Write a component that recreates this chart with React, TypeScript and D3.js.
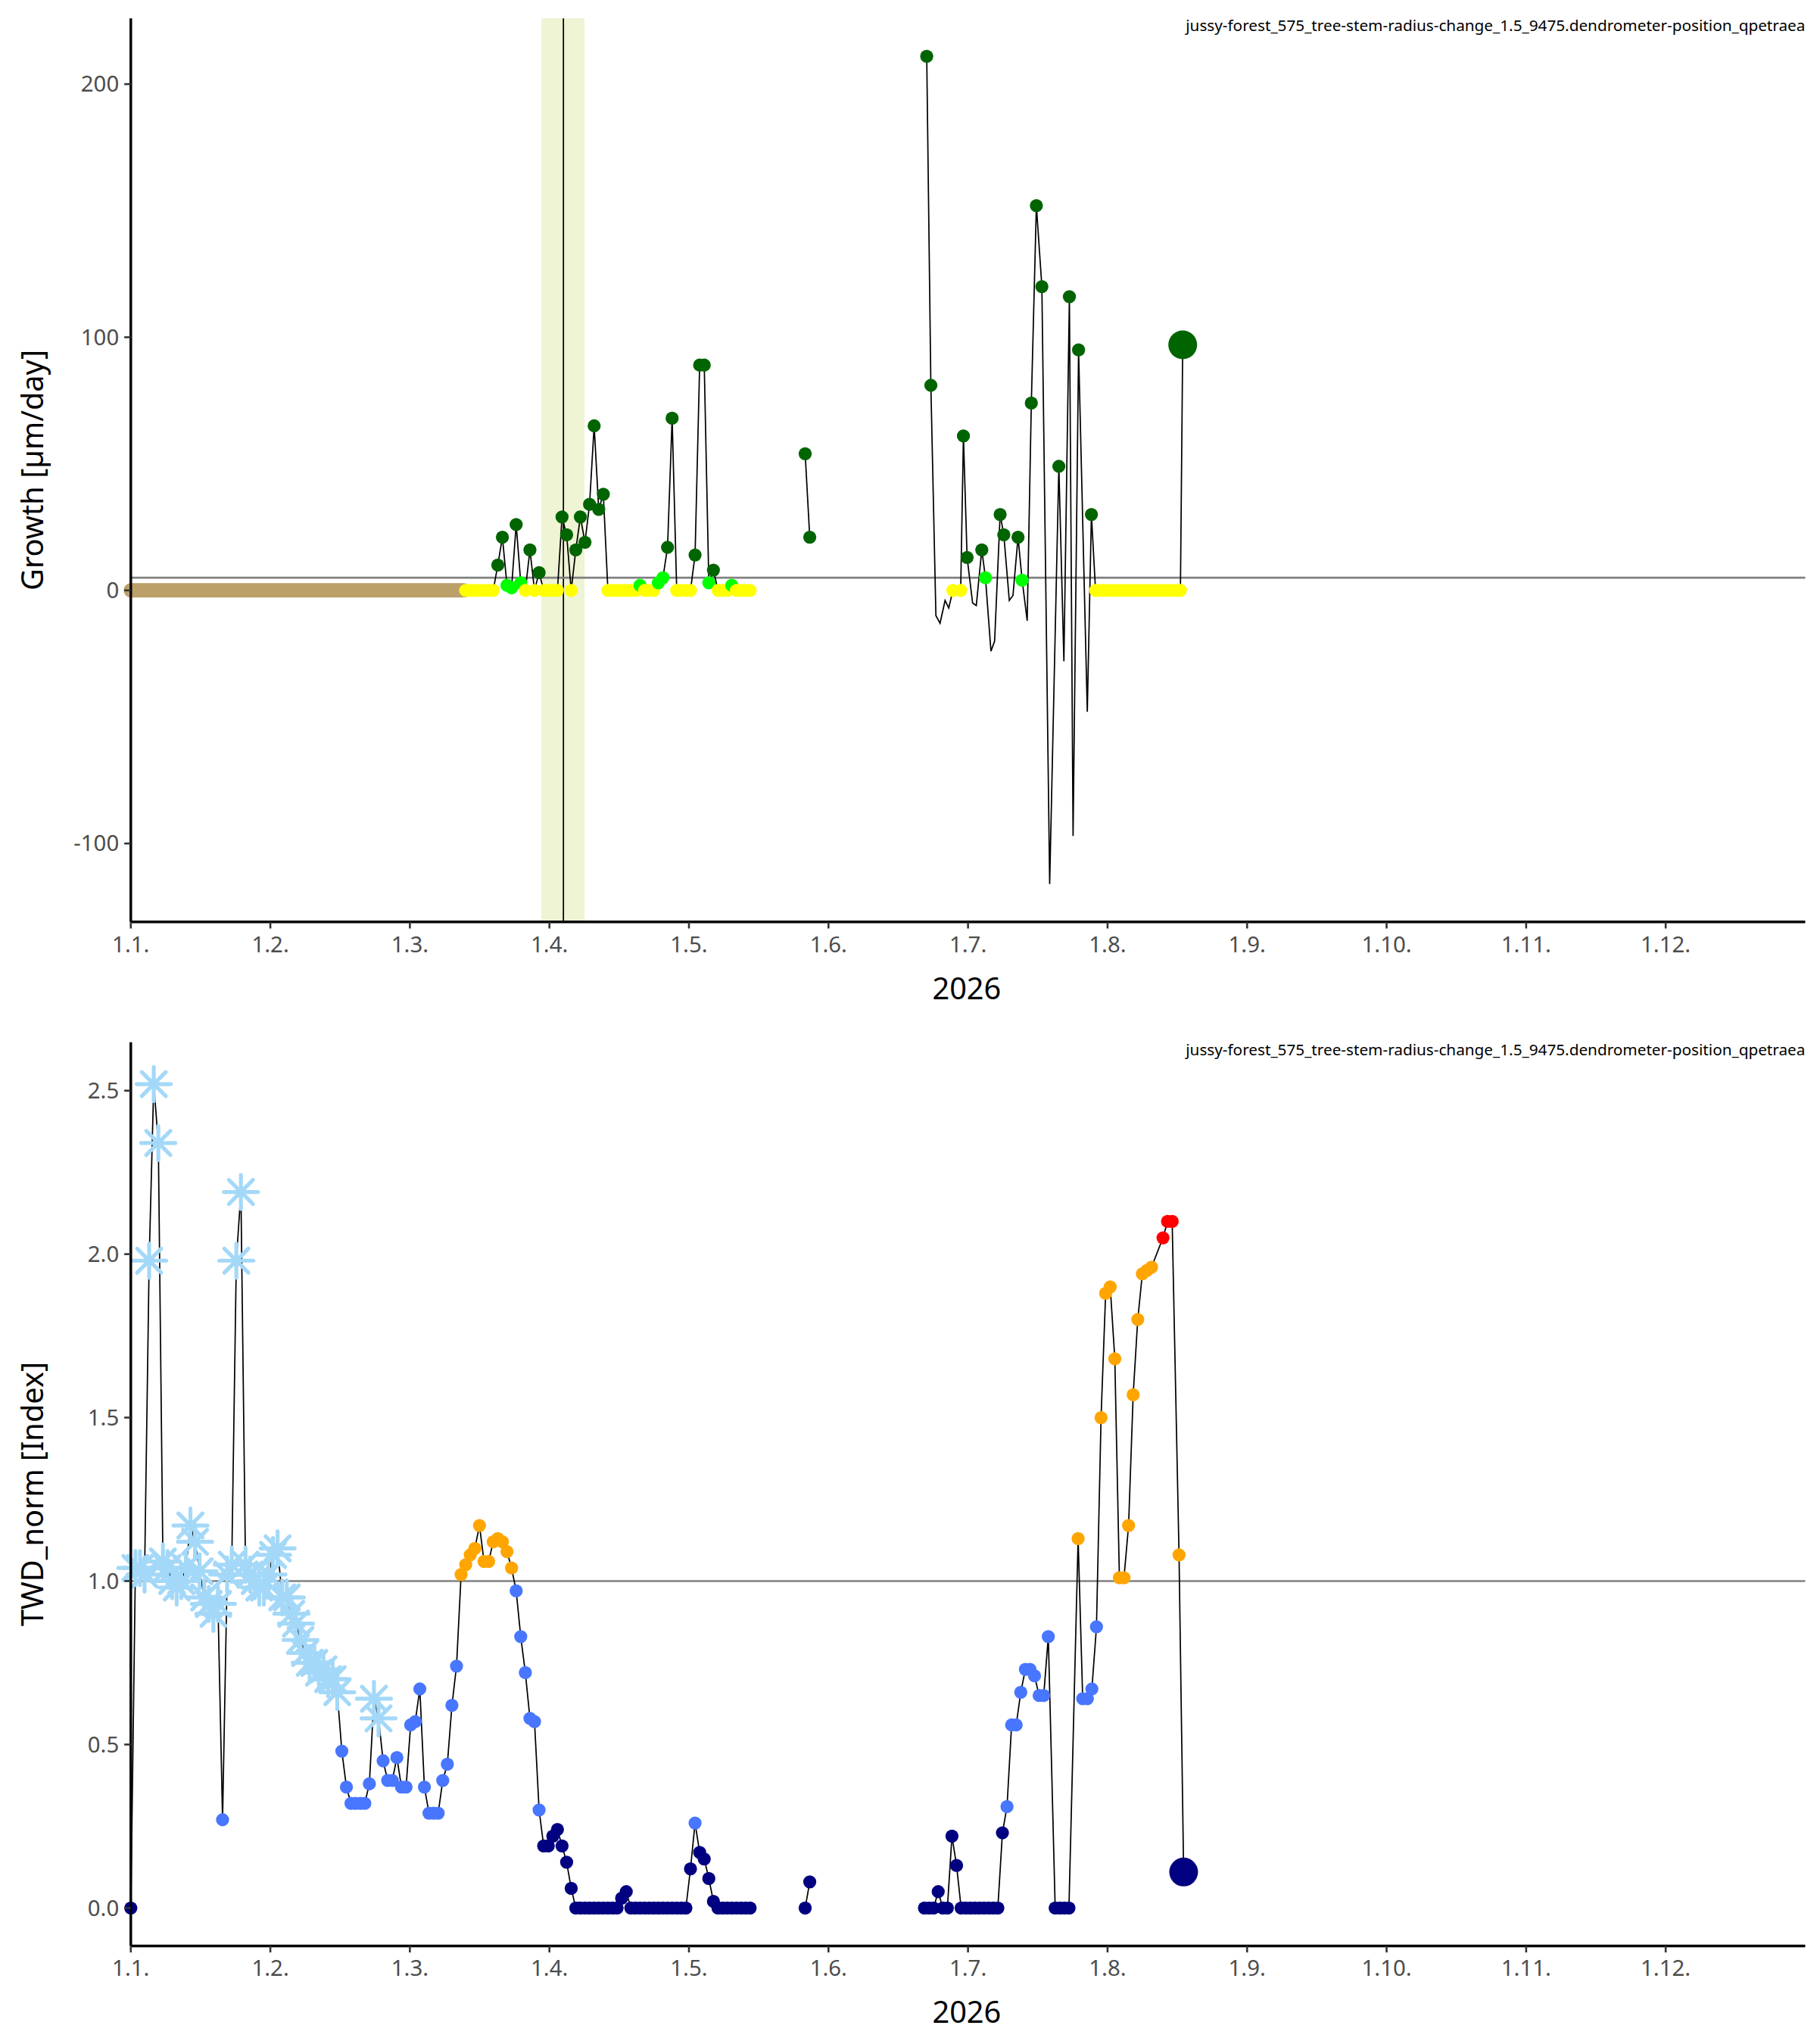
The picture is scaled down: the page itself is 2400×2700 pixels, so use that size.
import React from "react";
import * as d3 from "d3";

const TITLE = "jussy-forest_575_tree-stem-radius-change_1.5_9475.dendrometer-position_qpetraea";
const MONTH_LABELS = ["1.1.","1.2.","1.3.","1.4.","1.5.","1.6.","1.7.","1.8.","1.9.","1.10.","1.11.","1.12."];
const GROWTH_TICKS = [-100, 0, 100, 200];
const TWD_TICKS = [0, 0.5, 1, 1.5, 2, 2.5];

// [day, value, class]  g=dark green, l=lime, y=yellow, n=line only, G=big green
const growthA: [number, number, string][] = [
  [73,0,"y"],[74,0,"y"],[75,0,"y"],[76,0,"y"],[77,0,"y"],[78,0,"y"],[79,0,"y"],
  [80,10,"g"],[81,21,"g"],[82,2,"l"],[83,1,"l"],[84,26,"g"],[85,3,"l"],[86,0,"y"],[87,16,"g"],
  [88,0,"y"],[89,7,"g"],[90,0,"y"],[91,0,"y"],[92,0,"y"],[93,0,"y"],[94,29,"g"],[95,22,"g"],
  [96,0,"y"],[97,16,"g"],[98,29,"g"],[99,19,"g"],[100,34,"g"],[101,65,"g"],[102,32,"g"],[103,38,"g"],
  [104,0,"y"],[105,0,"y"],[106,0,"y"],[107,0,"y"],[108,0,"y"],[109,0,"y"],[110,0,"y"],
  [111,2,"l"],[112,0,"y"],[113,0,"y"],[114,0,"y"],[115,3,"l"],[116,5,"l"],[117,17,"g"],[118,68,"g"],
  [119,0,"y"],[120,0,"y"],[121,0,"y"],[122,0,"y"],[123,14,"g"],[124,89,"g"],[125,89,"g"],
  [126,3,"l"],[127,8,"g"],[128,0,"y"],[129,0,"y"],[130,0,"y"],[131,2,"l"],[132,0,"y"],
  [133,0,"y"],[134,0,"y"],[135,0,"y"],
];
const growthB: [number, number, string][] = [[147,54,"g"],[148,21,"g"]];
const growthC: [number, number, string][] = [
  [173.5,211,"g"],[174.4,81,"g"],[175.5,-10,"n"],[176.4,-13,"n"],[177.5,-4,"n"],[178.3,-7,"n"],
  [179.2,0,"y"],[180.9,0,"y"],[181.5,61,"g"],[182.3,13,"g"],[183.5,-5,"n"],[184.3,-6,"n"],
  [185.5,16,"g"],[186.3,5,"l"],[187.5,-24,"n"],[188.3,-20,"n"],[189.5,30,"g"],[190.3,22,"g"],
  [191.5,-4,"n"],[192.3,-2,"n"],[193.4,21,"g"],[194.3,4,"l"],[195.4,-12,"n"],[196.3,74,"g"],
  [197.4,152,"g"],[198.6,120,"g"],[200.3,-116,"n"],[202.3,49,"g"],[203.4,-28,"n"],[204.6,116,"g"],
  [205.4,-97,"n"],[206.6,95,"g"],[208.5,-48,"n"],[209.4,30,"g"],[210.3,0,"y"],
  [211,0,"y"],[212,0,"y"],[213,0,"y"],[214,0,"y"],[215,0,"y"],[216,0,"y"],[217,0,"y"],[218,0,"y"],
  [219,0,"y"],[220,0,"y"],[221,0,"y"],[222,0,"y"],[223,0,"y"],[224,0,"y"],[225,0,"y"],[226,0,"y"],
  [227,0,"y"],[228,0,"y"],[228.8,0,"y"],[229.3,97,"G"],
];
const tanBand: [number, number] = [0, 72.6];
const growthBand: [number, number] = [89.5, 98.9];
const growthVLine = 94.3;
const growthRef = 5;

// [day, value, class] a=asterisk light blue, b=blue, n=navy, o=orange, r=red, N=big navy
const twdA: [number, number, string][] = [
  [0,0,"n"],[1,1.04,"a"],[2,1.04,"a"],[3,1.02,"a"],[4,1.98,"a"],[5,2.52,"a"],[6,2.34,"a"],[7,1.06,"a"],
  [8,1.04,"a"],[9,1.0,"a"],[10,0.98,"a"],[11,1.0,"a"],[12,1.04,"a"],[13,1.17,"a"],[14,1.12,"a"],
  [15,1.03,"a"],[16,0.95,"a"],[17,0.93,"a"],[18,0.9,"a"],[19,0.93,"a"],[20,0.27,"b"],[21,1.02,"a"],
  [22,1.05,"a"],[23,1.98,"a"],[24,2.19,"a"],[25,1.05,"a"],[26,1.02,"a"],[27,1.0,"a"],[28,0.98,"a"],
  [29,0.98,"a"],[30,1.02,"a"],[31,1.08,"a"],[32,1.1,"a"],[33,0.95,"a"],[34,0.95,"a"],[35,0.9,"a"],
  [36,0.87,"a"],[37,0.82,"a"],[38,0.78,"a"],[39,0.75,"a"],[40,0.75,"a"],[41,0.72,"a"],[42,0.73,"a"],
  [43,0.7,"a"],[44,0.7,"a"],[45,0.66,"a"],[46,0.48,"b"],[47,0.37,"b"],[48,0.32,"b"],[49,0.32,"b"],
  [50,0.32,"b"],[51,0.32,"b"],[52,0.38,"b"],[53,0.64,"a"],[54,0.58,"a"],[55,0.45,"b"],[56,0.39,"b"],
  [57,0.39,"b"],[58,0.46,"b"],[59,0.37,"b"],[60,0.37,"b"],[61,0.56,"b"],[62,0.57,"b"],[63,0.67,"b"],
  [64,0.37,"b"],[65,0.29,"b"],[66,0.29,"b"],[67,0.29,"b"],[68,0.39,"b"],[69,0.44,"b"],[70,0.62,"b"],
  [71,0.74,"b"],[72,1.02,"o"],[73,1.05,"o"],[74,1.08,"o"],[75,1.1,"o"],[76,1.17,"o"],[77,1.06,"o"],
  [78,1.06,"o"],[79,1.12,"o"],[80,1.13,"o"],[81,1.12,"o"],[82,1.09,"o"],[83,1.04,"o"],[84,0.97,"b"],
  [85,0.83,"b"],[86,0.72,"b"],[87,0.58,"b"],[88,0.57,"b"],[89,0.3,"b"],[90,0.19,"n"],[91,0.19,"n"],
  [92,0.22,"n"],[93,0.24,"n"],[94,0.19,"n"],[95,0.14,"n"],[96,0.06,"n"],[97,0,"n"],[98,0,"n"],
  [99,0,"n"],[100,0,"n"],[101,0,"n"],[102,0,"n"],[103,0,"n"],[104,0,"n"],[105,0,"n"],[106,0,"n"],
  [107,0.03,"n"],[108,0.05,"n"],[109,0,"n"],[110,0,"n"],[111,0,"n"],[112,0,"n"],[113,0,"n"],
  [114,0,"n"],[115,0,"n"],[116,0,"n"],[117,0,"n"],[118,0,"n"],[119,0,"n"],[120,0,"n"],[121,0,"n"],
  [122,0.12,"n"],[123,0.26,"b"],[124,0.17,"n"],[125,0.15,"n"],[126,0.09,"n"],[127,0.02,"n"],
  [128,0,"n"],[129,0,"n"],[130,0,"n"],[131,0,"n"],[132,0,"n"],[133,0,"n"],[134,0,"n"],[135,0,"n"],
];
const twdB: [number, number, string][] = [[147,0,"n"],[148,0.08,"n"]];
const twdC: [number, number, string][] = [
  [173,0,"n"],[174,0,"n"],[175,0,"n"],[176,0.05,"n"],[177,0,"n"],[178,0,"n"],[179,0.22,"n"],
  [180,0.13,"n"],[181,0,"n"],[182,0,"n"],[183,0,"n"],[184,0,"n"],[185,0,"n"],[186,0,"n"],
  [187,0,"n"],[188,0,"n"],[189,0,"n"],[190,0.23,"n"],[191,0.31,"b"],[192,0.56,"b"],[193,0.56,"b"],
  [194,0.66,"b"],[195,0.73,"b"],[196,0.73,"b"],[197,0.71,"b"],[198,0.65,"b"],[199,0.65,"b"],
  [200,0.83,"b"],[201.5,0,"n"],[202.5,0,"n"],[203.5,0,"n"],[204.5,0,"n"],[206.5,1.13,"o"],
  [207.5,0.64,"b"],[208.5,0.64,"b"],[209.5,0.67,"b"],[210.5,0.86,"b"],[211.5,1.5,"o"],[212.5,1.88,"o"],
  [213.5,1.9,"o"],[214.5,1.68,"o"],[215.5,1.01,"o"],[216.5,1.01,"o"],[217.5,1.17,"o"],[218.5,1.57,"o"],
  [219.5,1.8,"o"],[220.5,1.94,"o"],[221.5,1.95,"o"],[222.5,1.96,"o"],[225,2.05,"r"],[226,2.1,"r"],
  [227,2.1,"r"],[228.5,1.08,"o"],[229.5,0.11,"N"],
];

const COLORS: Record<string, string> = {
  g: "#006400", l: "#00ff00", y: "#ffff00", G: "#006400",
  a: "#a4d8f8", b: "#4876ff", n: "#000080", N: "#000080", o: "#ffa500", r: "#ff0000",
};

const X0 = 100, X1 = 1380;
const x = d3.scaleLinear().domain([0, 365]).range([X0, X1]);
const monthTicks = MONTH_LABELS.map((_, i) => (i * 365) / 12);

function Star({ cx, cy }: { cx: number; cy: number }) {
  const r = 13;
  const lines = [0, 45, 90, 135].map((a) => {
    const t = (a * Math.PI) / 180;
    return <line key={a} x1={cx - r * Math.cos(t)} y1={cy - r * Math.sin(t)} x2={cx + r * Math.cos(t)} y2={cy + r * Math.sin(t)} />;
  });
  return <g stroke={COLORS.a} strokeWidth={3} strokeLinecap="round">{lines}</g>;
}

function Panel({ top, bottom, domain, ticks, fmt, label, segs, refVal, growth }: any) {
  const y = d3.scaleLinear().domain(domain).range([bottom, top]);
  const line = d3.line<[number, number, string]>().x((d) => x(d[0])).y((d) => y(d[1]));
  return (
    <g>
      {growth && (
        <>
          <rect x={x(growthBand[0])} y={top} width={x(growthBand[1]) - x(growthBand[0])} height={bottom - top} fill="#eef4d4" />
          <line x1={x(growthVLine)} x2={x(growthVLine)} y1={top} y2={bottom} stroke="#000" strokeWidth={1} />
        </>
      )}
      <line x1={X0} x2={X1} y1={y(refVal)} y2={y(refVal)} stroke="#808080" strokeWidth={1.5} />
      {growth && (
        <line x1={x(tanBand[0])} x2={x(tanBand[1])} y1={y(0)} y2={y(0)} stroke="#bca06a" strokeWidth={11} strokeLinecap="round" />
      )}
      {segs.map((s: any, i: number) => (
        <path key={i} d={line(s) || ""} fill="none" stroke="#000" strokeWidth={1} />
      ))}
      {segs.flat().map((d: [number, number, string], i: number) => {
        if (d[2] === "n" && growth) return null;
        if (d[2] === "a") return <Star key={i} cx={x(d[0])} cy={y(d[1])} />;
        const big = d[2] === "G" || d[2] === "N";
        return <circle key={i} cx={x(d[0])} cy={y(d[1])} r={big ? 11 : 5} fill={COLORS[d[2]]} />;
      })}
      <line x1={X0} x2={X0} y1={top} y2={bottom} stroke="#000" strokeWidth={2} />
      <line x1={X0} x2={X1} y1={bottom} y2={bottom} stroke="#000" strokeWidth={2} />
      {ticks.map((t: number) => (
        <g key={t}>
          <line x1={X0 - 5} x2={X0} y1={y(t)} y2={y(t)} stroke="#333" strokeWidth={1.5} />
          <text x={X0 - 9} y={y(t)} dy="0.35em" textAnchor="end" fontSize={17} fill="#4d4d4d">{fmt(t)}</text>
        </g>
      ))}
      {monthTicks.map((t, i) => (
        <g key={i}>
          <line x1={x(t)} x2={x(t)} y1={bottom} y2={bottom + 5} stroke="#333" strokeWidth={1.5} />
          <text x={x(t)} y={bottom + 23} textAnchor="middle" fontSize={17} fill="#4d4d4d">{MONTH_LABELS[i]}</text>
        </g>
      ))}
      <text x={(X0 + X1) / 2 - 1} y={bottom + 59} textAnchor="middle" fontSize={23} fill="#000">2026</text>
      <text transform={`translate(33,${(top + bottom) / 2}) rotate(-90)`} textAnchor="middle" fontSize={23} fill="#000">{label}</text>
      <text x={X1} y={top + 10} textAnchor="end" fontSize={12} fill="#000">{TITLE}</text>
    </g>
  );
}

export default function App() {
  return (
    <svg width={2400} height={2700} viewBox="0 0 1389 1563" preserveAspectRatio="none"
      style={{ position: "absolute", left: 0, top: 0, background: "#fff", fontFamily: "'Noto Sans', sans-serif" }}>
      <rect width={1389} height={1563} fill="#fff" />
      <Panel top={14} bottom={705} domain={[-131, 226]} ticks={GROWTH_TICKS} fmt={(t: number) => String(t)}
        label="Growth [µm/day]" segs={[growthA, growthB, growthC]} refVal={growthRef} growth />
      <Panel top={797} bottom={1488} domain={[-0.116, 2.648]} ticks={TWD_TICKS} fmt={d3.format(".1f")}
        label="TWD_norm [Index]" segs={[twdA, twdB, twdC]} refVal={1} growth={false} />
    </svg>
  );
}
